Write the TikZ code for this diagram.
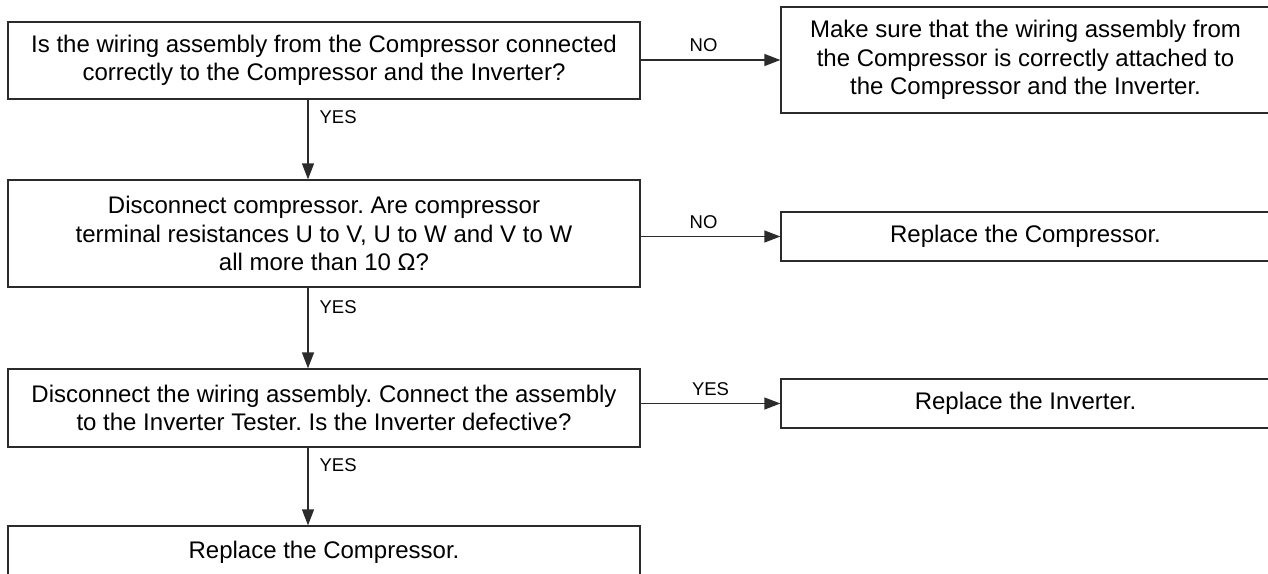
\documentclass[tikz,border=0pt]{standalone}
\usepackage{fontspec}
\setmainfont{Liberation Sans}
\frenchspacing
\usetikzlibrary{arrows.meta}
\definecolor{linecol}{HTML}{2B2B2B}
\begin{document}
\begin{tikzpicture}[x=1pt,y=-1pt,
  box/.style={draw=linecol, line width=1.3pt, inner sep=0pt, align=center,
    font=\fontsize{24}{28.5}\selectfont},
  arr/.style={draw=linecol, line width=1.3pt, -{Triangle[length=16pt,width=12pt]}},
  lbl/.style={inner sep=0pt, font=\fontsize{18.5}{20}\selectfont}]
\useasboundingbox (0,0) rectangle (1268,573);
\fill[white] (0,0) rectangle (1268,573);

\node[box, minimum width=632pt, minimum height=77pt] (q1) at (324,60.5)
  {Is the wiring assembly from the Compressor connected\\correctly to the Compressor and the Inverter?};
\node[box, minimum width=489pt, minimum height=106pt] (a1) at (1025.5,60)
  {Make sure that the wiring assembly from\\the Compressor is correctly attached to\\the Compressor and the Inverter.};
\node[box, minimum width=632pt, minimum height=107pt] (q2) at (324,233.5)
  {Disconnect compressor. Are compressor\\terminal resistances U to V, U to W and V to W\\all more than 10 Ω?};
\node[box, minimum width=489pt, minimum height=49pt] (a2) at (1025.5,236.5)
  {Replace the Compressor.};
\node[box, minimum width=632pt, minimum height=78pt] (q3) at (324,408)
  {Disconnect the wiring assembly. Connect the assembly\\to the Inverter Tester. Is the Inverter defective?};
\node[box, minimum width=489pt, minimum height=49pt] (a3) at (1025.5,403.5)
  {Replace the Inverter.};
\node[box, minimum width=632pt, minimum height=52pt] (q4) at (324,552)
  {Replace the Compressor.};

\draw[arr] (q1.east |- a1.west) -- node[lbl, pos=0.45, anchor=base, yshift=8.5pt] (l1) {NO} (a1.west);
\draw[arr] (q2.east |- a2.west) -- node[lbl, pos=0.45, anchor=base, yshift=8.5pt] (l2) {NO} (a2.west);
\draw[arr] (q3.east |- a3.west) -- node[lbl, pos=0.5, anchor=base, yshift=8.5pt] (l3) {YES} (a3.west);

\draw[arr] ([xshift=-16pt]q1.south) -- node[lbl, pos=0.225, anchor=west, xshift=11pt] (l4) {YES} ([xshift=-16pt]q2.north);
\draw[arr] ([xshift=-16pt]q2.south) -- node[lbl, pos=0.24, anchor=west, xshift=11pt] (l5) {YES} ([xshift=-16pt]q3.north);
\draw[arr] ([xshift=-16pt]q3.south) -- node[lbl, pos=0.22, anchor=west, xshift=11pt] (l6) {YES} ([xshift=-16pt]q4.north);
\end{tikzpicture}
\end{document}
